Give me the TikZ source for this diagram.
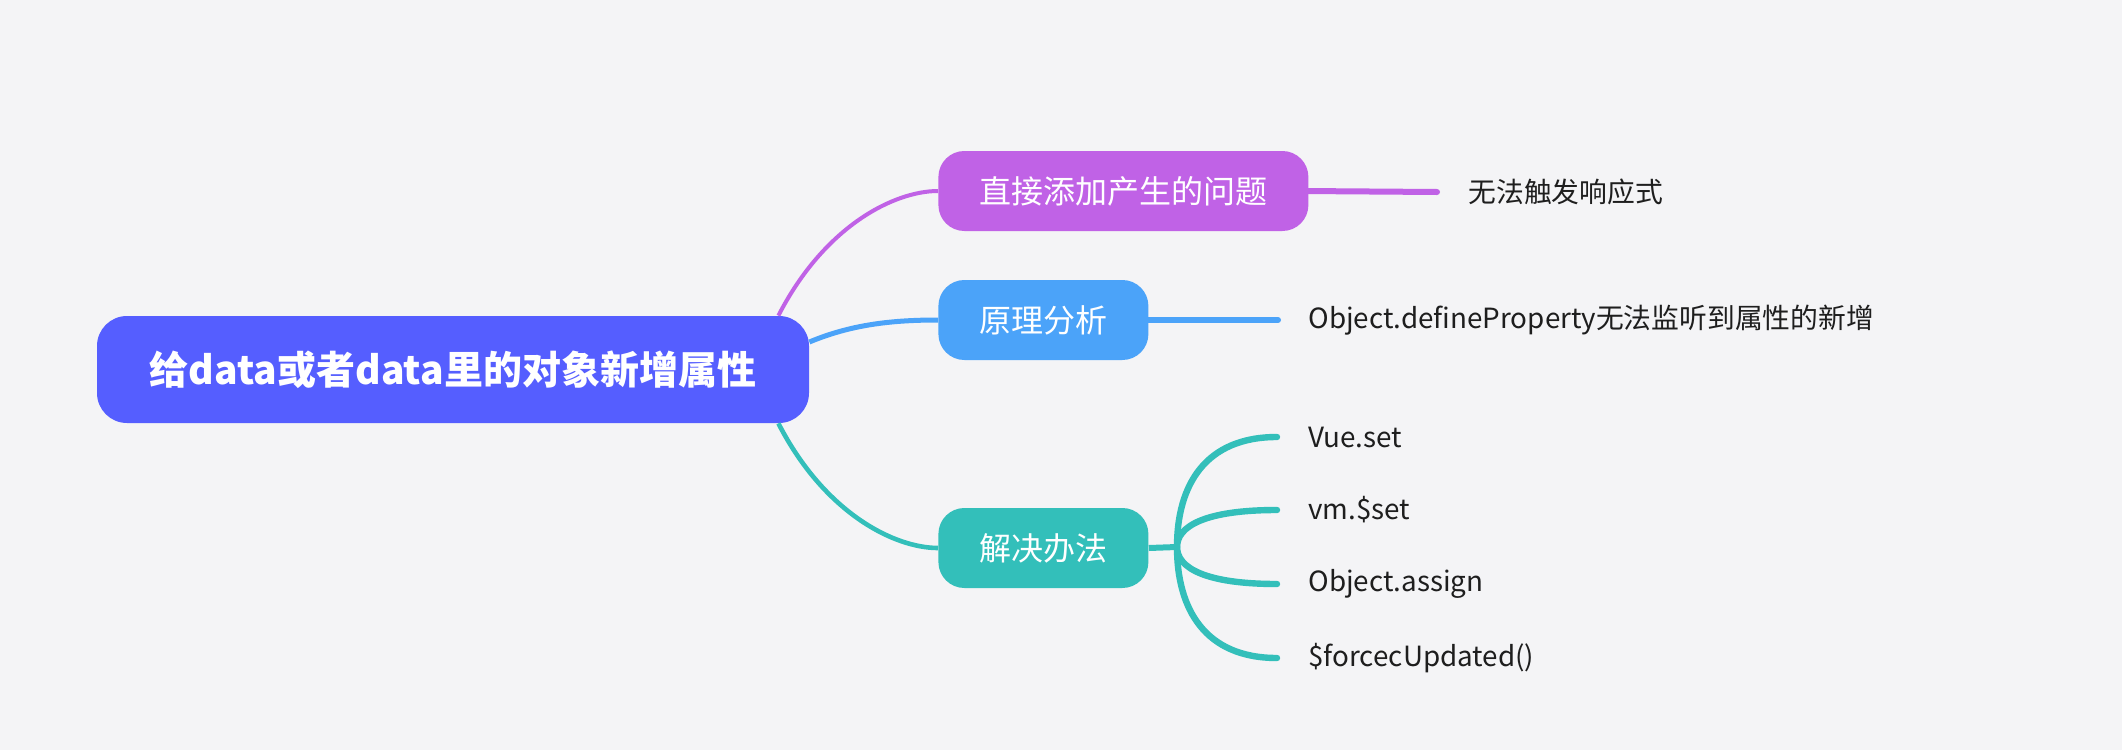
\documentclass[tikz,border=0pt]{standalone}
\usepackage{fontspec}
\setmainfont{Noto Sans CJK SC}
\definecolor{bgcol}{HTML}{F4F4F6}
\definecolor{rootcol}{HTML}{555EFF}
\definecolor{wtcol}{HTML}{C062E6}
\definecolor{ylcol}{HTML}{4BA3F9}
\definecolor{ffcol}{HTML}{33BFBA}
\definecolor{leafcol}{HTML}{1E1E1E}

\begin{document}
\begin{tikzpicture}[x=0.5pt,y=-0.5pt,
  rootbox/.style={fill=rootcol, rounded corners=15pt, text=white, font=\fontsize{19.5}{22}\selectfont\bfseries, minimum width=356pt, minimum height=53.5pt, inner sep=0pt},
  topicbox/.style={rounded corners=13pt, text=white, font=\fontsize{16}{18}\selectfont, minimum height=40pt, inner xsep=20.5pt, inner ysep=0pt, anchor=west},
  leaf/.style={font=\fontsize{13.9}{16}\selectfont, text=leafcol, inner sep=0pt, anchor=west}]

\fill[bgcol] (0,0) rectangle (2122,750);
\useasboundingbox (0,0) rectangle (2122,750);

\pgfmathsetmacro{\branchx}{938};
\pgfmathsetmacro{\leafx}{1308};

\node[rootbox] (root) at (453,369.5) {给data或者data里的对象新增属性};

\node[topicbox, fill=wtcol] (wt) at (\branchx,191) {直接添加产生的问题};
\node[topicbox, fill=ylcol] (yl) at (\branchx,320) {原理分析};
\node[topicbox, fill=ffcol] (ff) at (\branchx,548) {解决办法};

\draw[wtcol, line width=2pt] ([xshift=-15.5pt]root.north east) .. controls (825,225) and (895,191) .. (wt.west);
\draw[ylcol, line width=2.5pt] ([yshift=13.75pt]root.east) .. controls (850,325) and (890,320) .. (yl.west);
\draw[ffcol, line width=2.3pt] ([xshift=-15.5pt]root.south east) .. controls (825,514) and (895,548) .. (ff.west);

% leaves
\coordinate (wtend) at (1437,192);
\node[leaf] (wtleaf) at (1468,192) {无法触发响应式};
\draw[wtcol, line width=3pt, line cap=round] ([xshift=-3pt]wt.east) -- (wtend);

\coordinate (ylend) at (1278,320);
\node[leaf] (ylleaf) at (\leafx,320) {Object.defineProperty无法监听到属性的新增};
\draw[ylcol, line width=3pt, line cap=round] ([xshift=-3pt]yl.east) -- (ylend);

\coordinate (fork) at (1177,547);
\draw[ffcol, line width=3pt] (ff.east) -- (fork);
\foreach \lbl/\yy [count=\i] in {Vue.set/437, vm.\$set/510, Object.assign/584, \$forcecUpdated()/658} {
  \pgfmathsetmacro{\cy}{547+(\yy-547)*0.56};
  \coordinate (ffend\i) at (1277,\yy);
  \node[leaf] (ffleaf\i) at (\leafx,\yy) {\lbl};
  \draw[ffcol, line width=3.2pt, line cap=round] (fork) .. controls (1177,\cy) and (1205,\yy) .. (ffend\i);
}
\end{tikzpicture}
\end{document}
